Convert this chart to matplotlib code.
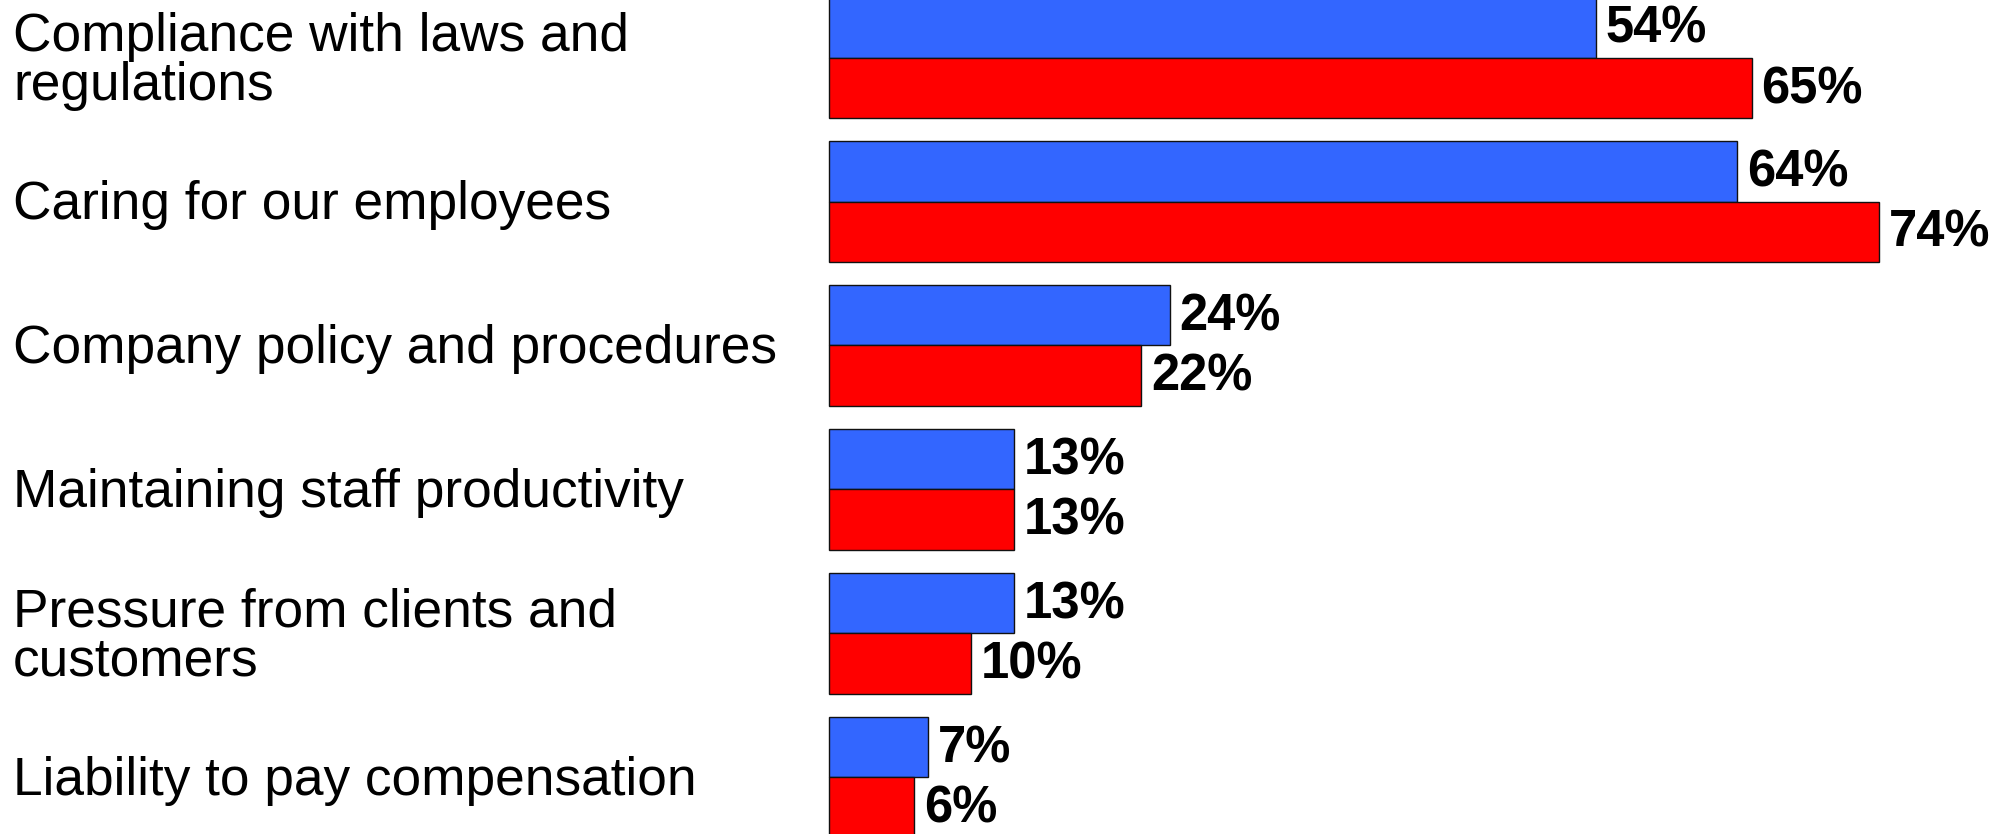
import numpy as np
import matplotlib.pyplot as plt
from matplotlib.transforms import blended_transform_factory

# data
categories = [
    "Compliance with laws and\nregulations",
    "Caring for our employees",
    "Company policy and procedures",
    "Maintaining staff productivity",
    "Pressure from clients and\ncustomers",
    "Liability to pay compensation",
]
blue_vals = [54, 64, 24, 13, 13, 7]
red_vals = [65, 74, 22, 13, 10, 6]

BLUE = "#3366FF"
RED = "#FF0000"
bar_h = 0.42

plt.rcParams['font.family'] = ['Liberation Sans', 'DejaVu Sans']

fig = plt.figure(figsize=(20.1, 8.34), dpi=100)
ax = fig.add_axes([0, 0, 1, 1])

y = np.arange(len(categories))
ax.barh(y - bar_h / 2, blue_vals, height=bar_h, color=BLUE,
        edgecolor="#111111", linewidth=1.0)
ax.barh(y + bar_h / 2, red_vals, height=bar_h, color=RED,
        edgecolor="#111111", linewidth=1.0)

# value labels
for yi, b, r in zip(y, blue_vals, red_vals):
    ax.text(b + 0.7, yi - bar_h / 2 + 0.012, "%d%%" % b, va="center",
            ha="left", fontsize=36.5, fontweight="bold")
    ax.text(r + 0.7, yi + bar_h / 2 + 0.012, "%d%%" % r, va="center",
            ha="left", fontsize=36.5, fontweight="bold")

# category labels at left edge of figure
trans = blended_transform_factory(ax.transAxes, ax.transData)
for yi, cat in zip(y, categories):
    ax.text(0.0065, yi + 0.027, cat, transform=trans, va="center", ha="left",
            fontsize=38.3, linespacing=0.99)

ax.set_xlim(-58.4, 83.2)
ax.set_ylim(5.396, -0.401)
ax.axis("off")

fig.savefig("out.png", dpi=100)
